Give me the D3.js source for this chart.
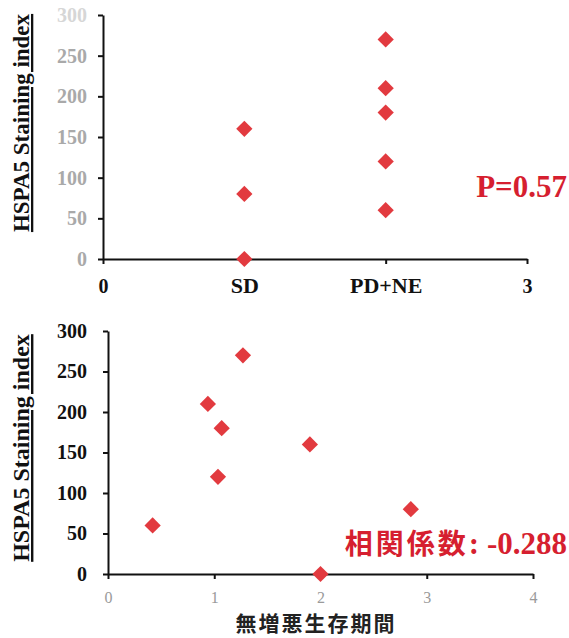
<!DOCTYPE html>
<html>
<head>
<meta charset="utf-8">
<script src="https://cdn.jsdelivr.net/npm/d3@7"></script>
<style>
  html, body { margin: 0; padding: 0; background: #ffffff; }
  svg { display: block; }
</style>
</head>
<body>
<svg id="chart" width="569" height="638"></svg>
<script>
// ---------- data ----------
const yTicks = [0, 50, 100, 150, 200, 250, 300];
const topXTickValues = [0, 1, 2, 3];
const topXTickLabels = ["0", "SD", "PD+NE", "3"];
const sdValues = [160, 80, 0];          // group SD at x = 1
const pdneValues = [270, 210, 180, 120, 60]; // group PD+NE at x = 2
const topPLabel = "P=0.57";

const bottomXTicks = [0, 1, 2, 3, 4];
const pfsValues = [0.42, 0.94, 1.035, 1.07, 1.27, 1.90, 2.00, 2.85];
const hspaValues = [60, 210, 120, 180, 270, 160, 0, 80];
const corrLabelCJK = "相関係数";
const corrLabelNum = ": -0.288";
const yTitle = "HSPA5 Staining index";
const xTitleBottom = "無増悪生存期間";

// ---------- styles ----------
const SERIF = '"Liberation Serif", "Times New Roman", serif';
const CJK = '"Noto Sans CJK JP", "Noto Sans CJK SC", sans-serif';
const markRed = "#e23a3f";
const textRed = "#d61f30";

const svg = d3.select("#chart");

const diamond = d3.symbol().type(d3.symbolSquare).size(132);

// ---------- top chart ----------
const xTop = d3.scaleLinear().domain([0, 3]).range([103, 527]);
const yTop = d3.scaleLinear().domain([0, 300]).range([259, 15]);

const gTop = svg.append("g");

const yAxisTop = gTop.append("g")
  .attr("transform", `translate(${xTop(0)},0)`)
  .call(d3.axisLeft(yTop).tickValues(yTicks).tickSize(5).tickSizeOuter(0).tickPadding(11));
yAxisTop.selectAll("text")
  .style("font-family", SERIF).style("font-weight", "bold").style("font-size", "20px")
  .attr("fill", d => d === 300 ? "#d6d6d6" : "#a9a9a9");

const xAxisTop = gTop.append("g")
  .attr("transform", `translate(0,${yTop(0)})`)
  .call(d3.axisBottom(xTop).tickValues(topXTickValues).tickSize(5).tickSizeOuter(0)
    .tickFormat((d, i) => topXTickLabels[i]));
xAxisTop.selectAll("text")
  .style("font-family", SERIF).style("font-weight", "bold")
  .style("font-size", (d, i) => (i === 1 || i === 2) ? "22px" : "20px")
  .attr("fill", "#111").attr("y", 34).attr("dy", 0);

[yAxisTop, xAxisTop].forEach(a => {
  a.selectAll(".domain, .tick line").attr("stroke", "#111").attr("stroke-width", 2);
});

const topPoints = sdValues.map(v => ({ x: 1, y: v }))
  .concat(pdneValues.map(v => ({ x: 2, y: v })));
gTop.selectAll("path.pt").data(topPoints).join("path")
  .attr("class", "pt")
  .attr("d", diamond)
  .attr("transform", d => `translate(${xTop(d.x)},${yTop(d.y)}) rotate(45)`)
  .attr("fill", markRed);

gTop.append("text")
  .attr("x", 567).attr("y", 197)
  .attr("text-anchor", "end")
  .style("font-family", SERIF).style("font-weight", "bold").style("font-size", "31px")
  .attr("fill", textRed)
  .text(topPLabel);

gTop.append("text")
  .attr("transform", `translate(29,123) rotate(-90)`)
  .attr("text-anchor", "middle")
  .style("font-family", SERIF).style("font-weight", "bold").style("font-size", "23px")
  .attr("fill", "#111")
  .style("text-decoration", "underline")
  .text(yTitle);

// ---------- bottom chart ----------
const xBot = d3.scaleLinear().domain([0, 4]).range([108, 533]);
const yBot = d3.scaleLinear().domain([0, 300]).range([574, 331]);

const gBot = svg.append("g");

const yAxisBot = gBot.append("g")
  .attr("transform", `translate(${xBot(0)},0)`)
  .call(d3.axisLeft(yBot).tickValues(yTicks).tickSize(5).tickSizeOuter(0).tickPadding(16));
yAxisBot.selectAll("text")
  .style("font-family", SERIF).style("font-weight", "bold").style("font-size", "20px")
  .attr("fill", "#111");

const xAxisBot = gBot.append("g")
  .attr("transform", `translate(0,${yBot(0)})`)
  .call(d3.axisBottom(xBot).tickValues(bottomXTicks).tickSize(5).tickSizeOuter(0)
    .tickFormat(d3.format("d")));
xAxisBot.selectAll("text")
  .style("font-family", SERIF).style("font-size", "16px")
  .attr("fill", "#9a9a9a").attr("y", 29).attr("dy", 0);

[yAxisBot, xAxisBot].forEach(a => {
  a.selectAll(".domain, .tick line").attr("stroke", "#111").attr("stroke-width", 2);
});

const botPoints = pfsValues.map((v, i) => ({ x: v, y: hspaValues[i] }));
gBot.selectAll("path.pt").data(botPoints).join("path")
  .attr("class", "pt")
  .attr("d", diamond)
  .attr("transform", d => `translate(${xBot(d.x)},${yBot(d.y)}) rotate(45)`)
  .attr("fill", markRed);

const corr = gBot.append("text")
  .attr("x", 567).attr("y", 554)
  .attr("text-anchor", "end")
  .attr("fill", textRed);
corr.append("tspan")
  .style("font-family", CJK).style("font-weight", "700").style("font-size", "28px")
  .attr("letter-spacing", 3)
  .text(corrLabelCJK);
corr.append("tspan")
  .style("font-family", SERIF).style("font-weight", "bold").style("font-size", "31px")
  .text(corrLabelNum);

gBot.append("text")
  .attr("transform", `translate(29,448) rotate(-90)`)
  .attr("text-anchor", "middle")
  .style("font-family", SERIF).style("font-weight", "bold").style("font-size", "24px")
  .attr("fill", "#111")
  .style("text-decoration", "underline")
  .text(yTitle);

gBot.append("text")
  .attr("x", 316).attr("y", 631)
  .attr("text-anchor", "middle")
  .style("font-family", CJK).style("font-weight", "700").style("font-size", "21px")
  .attr("letter-spacing", 2)
  .attr("fill", "#222")
  .text(xTitleBottom);
</script>
</body>
</html>
